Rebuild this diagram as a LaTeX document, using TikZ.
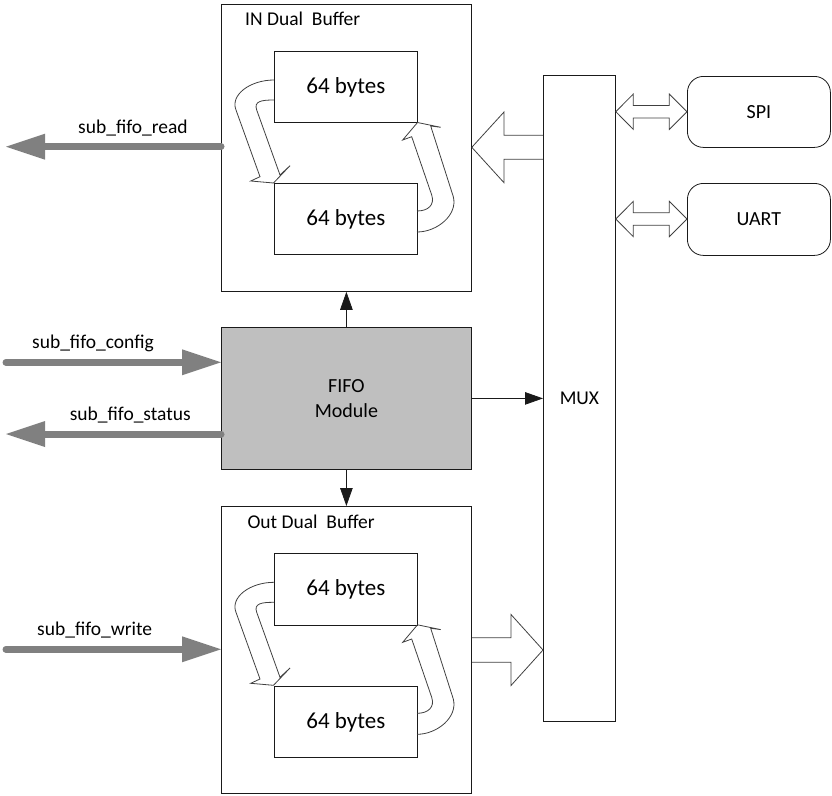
\documentclass[tikz,border=0pt]{standalone}
\usepackage{fontspec}
\setmainfont{Carlito}
\usetikzlibrary{arrows.meta}
\definecolor{fifogray}{HTML}{BFBFBF}
\definecolor{sig}{HTML}{808080}
\definecolor{hollow}{HTML}{404040}
\definecolor{edge}{HTML}{1A1A1A}
\newcommand\swappair[1]{%
  \begin{scope}[shift={(0,#1)}]
    \draw[hol] (274,80) .. controls (250,80) and (230,95) .. (236,110)
      -- (260,176.7) -- (250.7,181) -- (273.5,183) -- (290,165.7) -- (280,175)
      -- (256.7,110) .. controls (253.5,101) and (262,100) .. (274,100);
    \draw[hol] (417,232) .. controls (437,232) and (458,215) .. (453.3,196.7)
      -- (430.7,126) -- (440.7,127.3) -- (417.5,122.5) -- (402.7,140) -- (411.7,136.7)
      -- (431.7,195) .. controls (435,205) and (428,211) .. (417,211);
  \end{scope}}
\begin{document}
\begin{tikzpicture}[x=1pt,y=-1pt,
  blk/.style={draw=edge, line width=0.8pt, inner sep=0pt, anchor=north west},
  bytes/.style={font=\fontsize{23}{28}\selectfont},
  lbl/.style={font=\fontsize{19.5}{24}\selectfont, inner sep=0pt},
  hol/.style={draw=hollow, line width=0.8pt, line join=miter},
  sigline/.style={draw=sig, line width=7pt, line cap=round,
    -{Triangle[length=39pt,width=26pt,line width=0pt]}},
  blkarrow/.style={draw=edge, line width=0.8pt, -{Triangle[length=18pt,width=12.5pt]}}]
\useasboundingbox (0,0) rectangle (832,795);

% IN buffer
\node[blk, minimum width=250pt, minimum height=287pt] (inbuf) at (221,4) {};
\node[lbl, anchor=base west] (inT) at (245,25.7) {IN Dual\ \ Buffer};
\node[blk, bytes, minimum width=143pt, minimum height=71pt, align=center] (inA) at (274,51) {64 bytes};
\node[blk, bytes, minimum width=143pt, minimum height=71pt, align=center] (inB) at (274,183) {64 bytes};

% OUT buffer
\node[blk, minimum width=250pt, minimum height=287pt] (outbuf) at (221,506) {};
\node[lbl, anchor=base west] (outT) at (247.3,528.3) {Out Dual\ \ Buffer};
\node[blk, bytes, minimum width=143pt, minimum height=72pt] (outA) at (274,553) {64 bytes};
\node[blk, bytes, minimum width=143pt, minimum height=71pt] (outB) at (274,686) {64 bytes};

% FIFO module
\node[blk, fill=fifogray, minimum width=250pt, minimum height=142pt, align=center,
      font=\fontsize{20}{25}\selectfont] (fifo) at (221,327) {FIFO\\Module};

% MUX
\node[blk, minimum width=72pt, minimum height=646pt] (mux) at (543,75) {};
\node[lbl] (muxT) at (mux.center) {MUX};

% SPI / UART
\node[blk, rounded corners=16pt, minimum width=143pt, minimum height=71pt,
      font=\fontsize{20}{25}\selectfont] (spi) at (687,76) {SPI};
\node[blk, rounded corners=16pt, minimum width=143pt, minimum height=72pt,
      font=\fontsize{20}{25}\selectfont] (uart) at (687,183) {UART};

% swap arrows inside buffers
\swappair{0}
\swappair{502.3}

% black arrows from FIFO
\draw[blkarrow] (fifo.north) -- (inbuf.south);
\draw[blkarrow] (fifo.south) -- (outbuf.north);
\draw[blkarrow] (fifo.east) -- (fifo.east -| mux.west);

% hollow arrow MUX -> IN buffer
\draw[hol] (mux.west |- 0,135.3) -- (504,135.3) -- (504,112) -- (inbuf.east |- 0,147.3)
  -- (504,182.7) -- (504,159.3) -- (mux.west |- 0,159.3);
% hollow arrow OUT buffer -> MUX
\draw[hol] (outbuf.east |- 0,637.7) -- (511,637.7) -- (511,614.5) -- (mux.west |- 0,650)
  -- (511,685.5) -- (511,662.3) -- (outbuf.east |- 0,662.3);

% double arrows MUX <-> SPI / UART
\foreach \cy/\nd in {111.7/spi, 219/uart}{
  \draw[hol] (mux.east |- 0,\cy) -- (633.3,\cy-17.7) -- (633.3,\cy-6.3) -- (669.3,\cy-6.3)
    -- (669.3,\cy-17.7) -- (\nd.west |- 0,\cy) -- (669.3,\cy+17.7) -- (669.3,\cy+6.3)
    -- (633.3,\cy+6.3) -- (633.3,\cy+17.7) -- cycle;
}

% grey signal arrows
\coordinate (readE) at (6,146.7);
\coordinate (cfgS) at (6,362.3);
\coordinate (statE) at (6,434);
\coordinate (wrS) at (6,649.3);
\draw[sigline] (inbuf.west |- readE) -- (readE);
\draw[sigline] (cfgS) -- (cfgS -| fifo.west);
\draw[sigline] (fifo.west |- statE) -- (statE);
\draw[sigline] (wrS) -- (wrS -| outbuf.west);

\node[lbl, anchor=base] (readL) at (133,133) {sub\_fifo\_read};
\node[lbl, anchor=base] (cfgL) at (93,348.5) {sub\_fifo\_config};
\node[lbl, anchor=base] (statL) at (130.3,420) {sub\_fifo\_status};
\node[lbl, anchor=base] (wrL) at (94.7,635) {sub\_fifo\_write};
\end{tikzpicture}
\end{document}
